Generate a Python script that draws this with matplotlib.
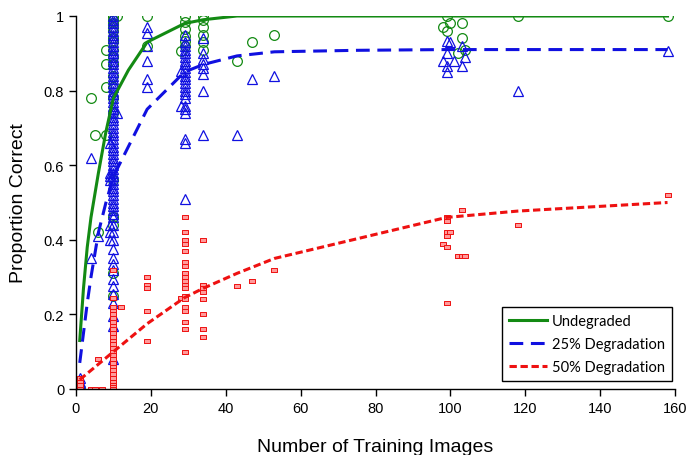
import matplotlib
matplotlib.use("Agg")
import matplotlib.pyplot as plt
from matplotlib.lines import Line2D

# ---- scatter data, grouped by training-image count ----
undeg_cols = [1, 4, 5, 6, 8, 10, 11, 19, 28, 29, 34, 43, 47, 53,
              98, 99, 100, 102, 103, 104, 118, 158]
undeg_vals = [[0.0], [0.78], [0.68], [0.42], [0.91, 0.87, 0.81, 0.68],
              [1.0, 1.0, 0.99, 0.98, 0.97, 0.96, 0.94, 0.93, 0.91, 0.89, 0.87, 0.84,
               0.81, 0.78, 0.74, 0.56, 0.46, 0.44, 0.31, 0.25],
              [1.0], [1.0, 0.92], [0.907],
              [1.0, 0.985, 0.965, 0.947, 0.934, 0.92],
              [1.0, 0.99, 0.97, 0.95, 0.93, 0.91],
              [0.88], [0.93], [0.95],
              [0.97], [1.0, 0.96], [0.98], [0.90], [0.98, 0.94], [0.91], [1.0], [1.0]]

deg25_cols = [1, 4, 6, 9, 10, 11, 19, 28, 29, 34, 43, 47, 53,
              98, 99, 100, 101, 103, 104, 118, 158]
deg25_vals = [[0.03, 0.02, 0.01, 0.0], [0.62, 0.35], [0.41],
              [0.66, 0.58, 0.57, 0.56, 0.44, 0.42, 0.40],
              [1.0, 0.99, 0.98, 0.97, 0.96, 0.95, 0.94, 0.93, 0.92, 0.91, 0.90, 0.89,
               0.88, 0.87, 0.86, 0.85, 0.84, 0.83, 0.82, 0.81, 0.80, 0.79, 0.78, 0.77,
               0.76, 0.75, 0.74, 0.73, 0.72, 0.71, 0.70, 0.69, 0.68, 0.67, 0.66, 0.65,
               0.64, 0.63, 0.62, 0.61, 0.60, 0.59, 0.58, 0.57, 0.56, 0.55, 0.54, 0.53,
               0.52, 0.51, 0.50, 0.49, 0.48, 0.47, 0.46, 0.44, 0.42, 0.40, 0.375, 0.35,
               0.335, 0.32, 0.295, 0.277, 0.255, 0.23, 0.196, 0.17, 0.08],
              [0.74],
              [0.97, 0.955, 0.92, 0.88, 0.83, 0.81],
              [0.853, 0.76],
              [0.95, 0.93, 0.92, 0.91, 0.90, 0.89, 0.88, 0.87, 0.86, 0.85, 0.84, 0.83,
               0.82, 0.81, 0.80, 0.79, 0.78, 0.76, 0.75, 0.74, 0.67, 0.66, 0.51],
              [0.94, 0.90, 0.885, 0.87, 0.86, 0.845, 0.80, 0.68],
              [0.68], [0.83], [0.84],
              [0.88], [0.934, 0.90, 0.867, 0.85], [0.93], [0.88], [0.92, 0.867], [0.89],
              [0.80], [0.907]]

deg50_cols = [1, 4, 5, 6, 7, 10, 12, 19, 28, 29, 34, 43, 47, 53,
              98, 99, 100, 102, 103, 104, 118, 158]
deg50_vals = [[0.03, 0.02, 0.01, 0.0], [0.0], [0.0], [0.08], [0.0],
              [0.32, 0.245, 0.22, 0.21, 0.20, 0.19, 0.18, 0.17, 0.16, 0.15, 0.14, 0.13,
               0.12, 0.11, 0.10, 0.09, 0.08, 0.07, 0.06, 0.05, 0.04, 0.03, 0.02, 0.01,
               0.005, 0.0],
              [0.22],
              [0.30, 0.28, 0.27, 0.21, 0.13],
              [0.245],
              [0.46, 0.42, 0.40, 0.39, 0.37, 0.34, 0.33, 0.31, 0.30, 0.29, 0.28, 0.27,
               0.25, 0.24, 0.22, 0.21, 0.18, 0.16, 0.10],
              [0.40, 0.28, 0.27, 0.26, 0.24, 0.20, 0.16, 0.14],
              [0.277], [0.289], [0.32],
              [0.39], [0.46, 0.45, 0.42, 0.41, 0.38, 0.23], [0.42], [0.357],
              [0.48, 0.357], [0.357], [0.44], [0.52]]

# ---- fitted curves ----
fit_x = [1, 2, 3, 4, 5, 6, 8, 10, 14, 19, 29, 34, 43, 53, 75, 99, 118, 158]
undeg_fit = [0.13, 0.27, 0.38, 0.46, 0.52, 0.58, 0.69, 0.78, 0.855, 0.93, 0.98, 0.99,
             1.0, 1.0, 1.0, 1.0, 1.0, 1.0]
deg25_fit = [0.07, 0.15, 0.23, 0.30, 0.36, 0.42, 0.50, 0.57, 0.65, 0.75, 0.85, 0.87,
             0.893, 0.904, 0.908, 0.91, 0.91, 0.91]
deg50_fit_x = [1, 10, 19, 29, 34, 43, 53, 99, 118, 158]
deg50_fit = [0.025, 0.10, 0.175, 0.245, 0.27, 0.31, 0.35, 0.46, 0.477, 0.50]

labels = ["Undegraded", "25% Degradation", "50% Degradation"]

GREEN = "#138a13"
BLUE = "#1010e0"
RED = "#ee1111"


def expand(cols, vals):
    xs, ys = [], []
    for c, v in zip(cols, vals):
        xs += [c] * len(v)
        ys += v
    return xs, ys


plt.rcParams["font.family"] = ["Liberation Sans", "DejaVu Sans"]

fig = plt.figure(figsize=(6.88, 4.56), dpi=100)
ax = fig.add_axes([76 / 688, 66 / 456, 599 / 688, 373 / 456])

rect = [(-1.0, -0.5), (1.0, -0.5), (1.0, 0.5), (-1.0, 0.5), (-1.0, -0.5)]

x, y = expand(undeg_cols, undeg_vals)
ax.plot(x, y, linestyle="none", marker="o", ms=7, mfc="none", mec=GREEN, mew=0.9)
x, y = expand(deg25_cols, deg25_vals)
ax.plot(x, y, linestyle="none", marker="^", ms=7, mfc="none", mec=BLUE, mew=0.9)
x, y = expand(deg50_cols, deg50_vals)
ax.plot(x, y, linestyle="none", marker=rect, ms=4.5, mfc="#ff9a9a", mec=RED, mew=0.7)

ax.plot(fit_x, undeg_fit, color=GREEN, lw=2.2)
ax.plot(fit_x, deg25_fit, color=BLUE, lw=2.2, dashes=(4.5, 2.5))
ax.plot(deg50_fit_x, deg50_fit, color=RED, lw=2.2, dashes=(2.4, 1.2))

ax.set_xlim(0, 160)
ax.set_ylim(0, 1)
ax.set_xticks(range(0, 161, 20))
ax.set_yticks([0, 0.2, 0.4, 0.6, 0.8, 1.0])
ax.set_yticklabels(["0", "0.2", "0.4", "0.6", "0.8", "1"])
ax.tick_params(direction="out", length=5, width=1, labelsize=10.5)
for s in ["top", "right"]:
    ax.spines[s].set_visible(False)
for s in ["left", "bottom"]:
    ax.spines[s].set_linewidth(1)

ax.set_xlabel("Number of Training Images", fontsize=14, labelpad=17)
ax.set_ylabel("Proportion Correct", fontsize=14, labelpad=12)

handles = [Line2D([], [], color=GREEN, lw=2.2),
           Line2D([], [], color=BLUE, lw=2.2, dashes=(4.5, 2.5)),
           Line2D([], [], color=RED, lw=2.2, dashes=(2.4, 1.2))]
leg = ax.legend(handles, labels, loc="lower right", bbox_to_anchor=(0.995, 0.021),
                borderaxespad=0, fancybox=False, edgecolor="black", framealpha=1,
                prop={"family": "Lato", "size": 10.5}, handlelength=2.6,
                handletextpad=0.3, labelspacing=0.6, borderpad=0.5)
leg.get_frame().set_linewidth(1)

fig.savefig("out.png", dpi=100)
